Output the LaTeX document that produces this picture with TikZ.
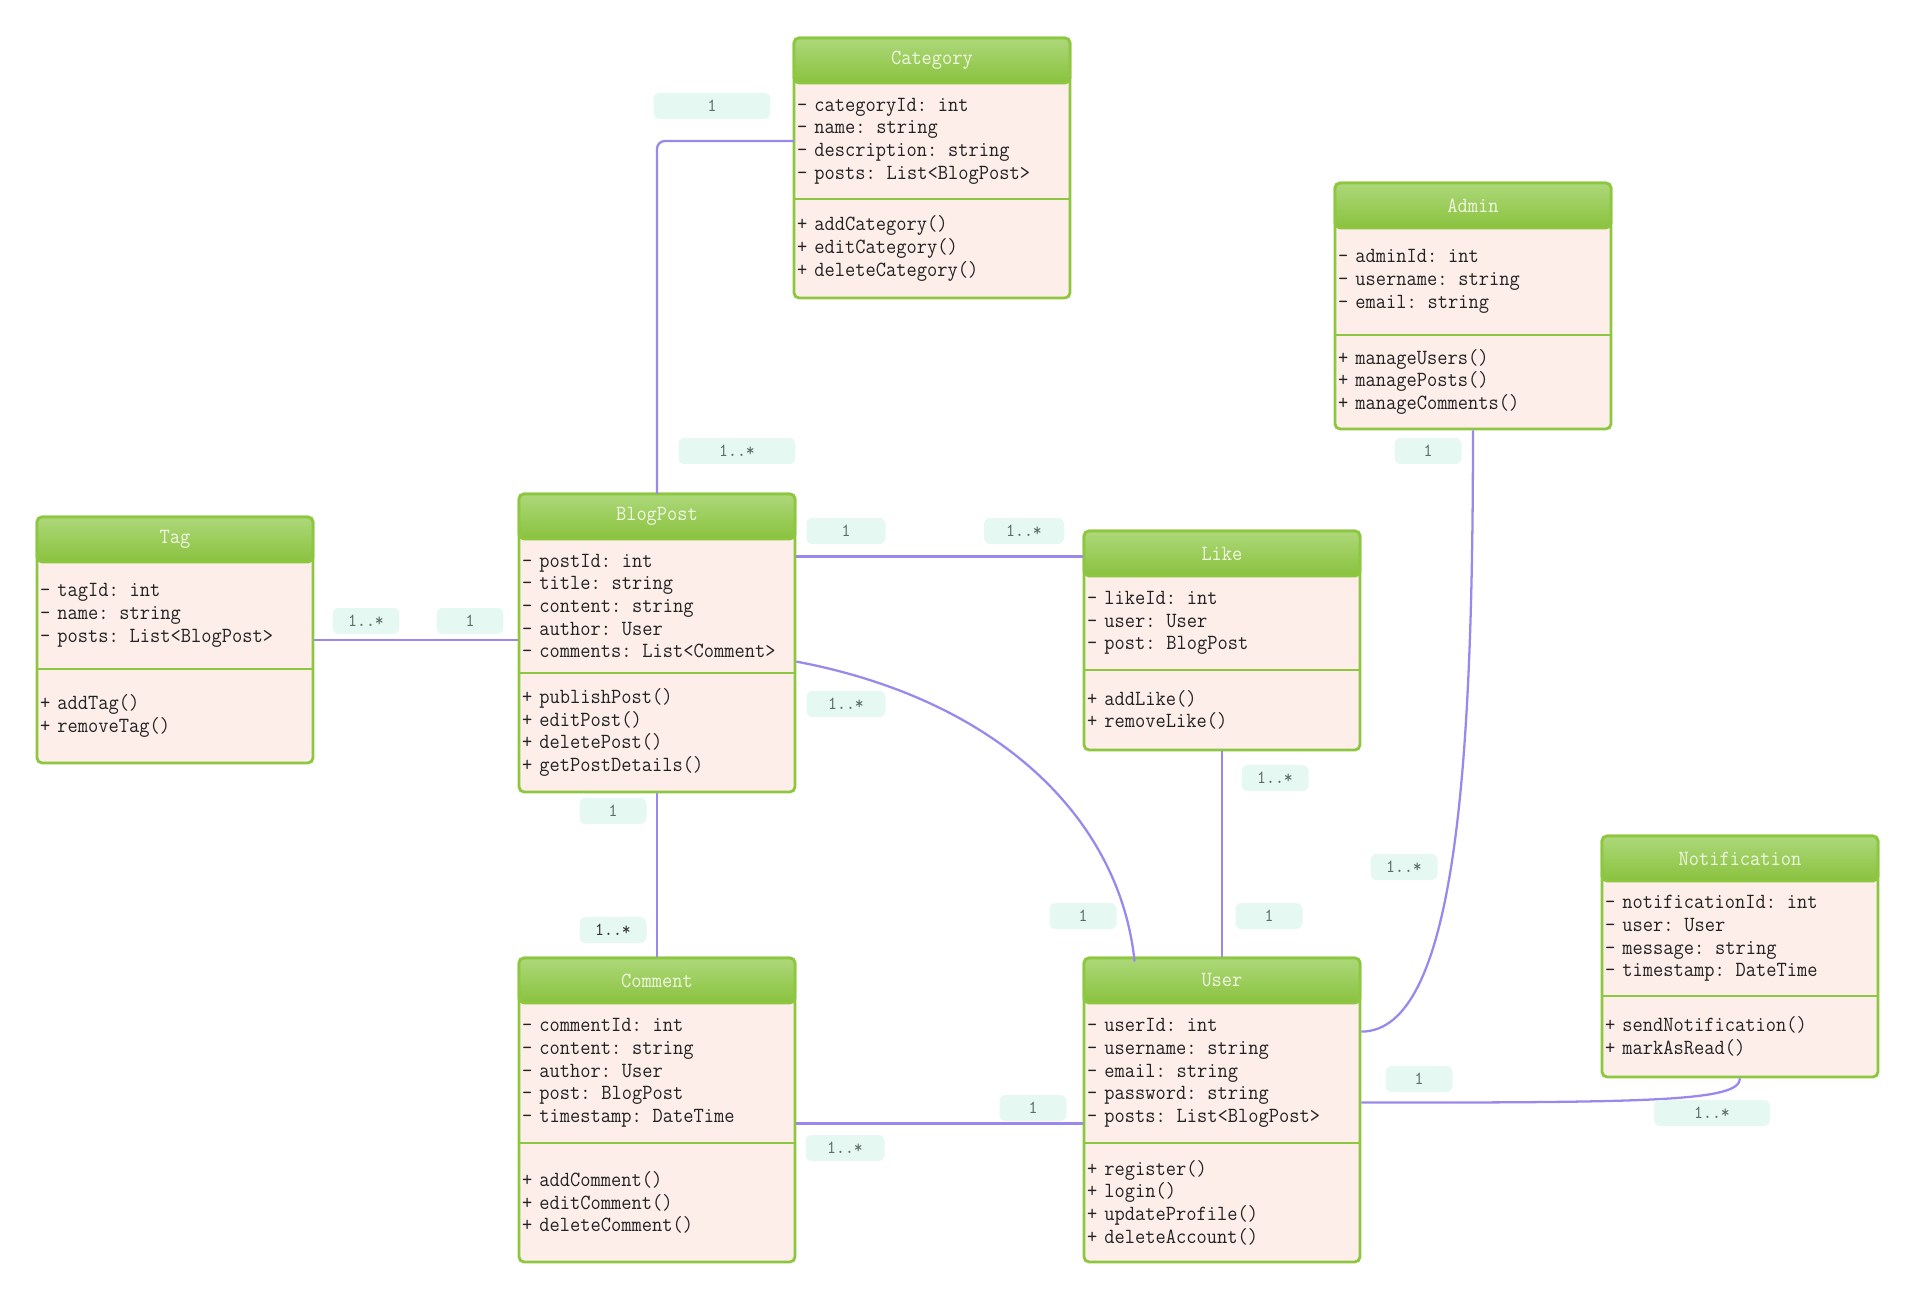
\documentclass[tikz,border=0pt]{standalone}
\usepackage{fontspec}
\newfontfamily\umlfont[FakeStretch=0.92]{Latin Modern Mono}
\usetikzlibrary{positioning,fit,calc,backgrounds}
\definecolor{classedge}{HTML}{8DC63F}
\definecolor{headtop}{HTML}{ADD87A}
\definecolor{headbottom}{HTML}{8AC23E}
\definecolor{headtext}{HTML}{F1F6E4}
\definecolor{classpink}{HTML}{FDEEEA}
\definecolor{classink}{HTML}{222222}
\definecolor{assocline}{HTML}{9B88EC}
\definecolor{multfill}{HTML}{E6F8F2}
\definecolor{multtext}{HTML}{5E6B67}

\begin{document}
\begin{tikzpicture}[
  x=0.02cm, y=-0.02cm,
  font=\umlfont\fontsize{12.3}{12.9}\selectfont,
  classhead/.style={draw=classedge, line width=1.6pt, rounded corners=0.1cm,
    top color=headtop, bottom color=headbottom, text=headtext,
    minimum width=5.52cm, minimum height=0.9cm, outer sep=0pt, anchor=north west},
  classpart/.style={text width=5.4cm, inner xsep=0.06cm, align=left,
    text=classink, outer sep=0pt},
  classbody/.style={draw=classedge, fill=classpink, line width=1.6pt,
    rounded corners=0.1cm, inner sep=0pt},
  divider/.style={draw=classedge, line width=1.6pt},
  assoc/.style={draw=assocline, line width=1.3pt},
  mult/.style={fill=multfill, rounded corners=0.12cm, minimum width=1.34cm,
    minimum height=0.52cm, inner sep=0pt, text=multtext,
    font=\umlfont\fontsize{10.5}{11}\selectfont}
]
  \useasboundingbox (0,0) rectangle (1917,1300);

  % classes
  \node[classhead] (catH) at (794,38) {Category};
  \node[classpart, minimum height=2.32cm, below=0pt of catH] (catA)
    {- categoryId: int\\- name: string\\- description: string\\- posts: List<BlogPost>};
  \node[classpart, minimum height=1.98cm, below=0pt of catA] (catM)
    {+ addCategory()\\+ editCategory()\\+ deleteCategory()};

  \node[classhead] (adminH) at (1335,183) {Admin};
  \node[classpart, minimum height=2.14cm, below=0pt of adminH] (adminA)
    {- adminId: int\\- username: string\\- email: string};
  \node[classpart, minimum height=1.88cm, below=0pt of adminA] (adminM)
    {+ manageUsers()\\+ managePosts()\\+ manageComments()};

  \node[classhead] (tagH) at (37,517) {Tag};
  \node[classpart, minimum height=2.14cm, below=0pt of tagH] (tagA)
    {- tagId: int\\- name: string\\- posts: List<BlogPost>};
  \node[classpart, minimum height=1.88cm, below=0pt of tagA] (tagM)
    {+ addTag()\\+ removeTag()};

  \node[classhead] (postH) at (519,494) {BlogPost};
  \node[classpart, minimum height=2.68cm, below=0pt of postH] (postA)
    {- postId: int\\- title: string\\- content: string\\- author: User\\- comments: List<Comment>};
  \node[classpart, minimum height=2.38cm, below=0pt of postA] (postM)
    {+ publishPost()\\+ editPost()\\+ deletePost()\\+ getPostDetails()};

  \node[classhead] (likeH) at (1084,531) {Like};
  \node[classpart, minimum height=1.88cm, below=0pt of likeH] (likeA)
    {- likeId: int\\- user: User\\- post: BlogPost};
  \node[classpart, minimum height=1.6cm, below=0pt of likeA] (likeM)
    {+ addLike()\\+ removeLike()};

  \node[classhead] (noteH) at (1602,836) {Notification};
  \node[classpart, minimum height=2.3cm, below=0pt of noteH] (noteA)
    {- notificationId: int\\- user: User\\- message: string\\- timestamp: DateTime};
  \node[classpart, minimum height=1.62cm, below=0pt of noteA] (noteM)
    {+ sendNotification()\\+ markAsRead()};

  \node[classhead] (commentH) at (519,958) {Comment};
  \node[classpart, minimum height=2.8cm, below=0pt of commentH] (commentA)
    {- commentId: int\\- content: string\\- author: User\\- post: BlogPost\\- timestamp: DateTime};
  \node[classpart, minimum height=2.38cm, below=0pt of commentA] (commentM)
    {+ addComment()\\+ editComment()\\+ deleteComment()};

  \node[classhead] (userH) at (1084,958) {User};
  \node[classpart, minimum height=2.8cm, below=0pt of userH] (userA)
    {- userId: int\\- username: string\\- email: string\\- password: string\\- posts: List<BlogPost>};
  \node[classpart, minimum height=2.38cm, below=0pt of userA] (userM)
    {+ register()\\+ login()\\+ updateProfile()\\+ deleteAccount()};

  \begin{scope}[on background layer]
    \node[classbody, fit=(catH)(catM)] (cat) {};
    \node[classbody, fit=(adminH)(adminM)] (admin) {};
    \node[classbody, fit=(tagH)(tagM)] (tag) {};
    \node[classbody, fit=(postH)(postM)] (post) {};
    \node[classbody, fit=(likeH)(likeM)] (like) {};
    \node[classbody, fit=(noteH)(noteM)] (note) {};
    \node[classbody, fit=(commentH)(commentM)] (comment) {};
    \node[classbody, fit=(userH)(userM)] (user) {};
  \end{scope}

  \draw[divider] (catA.south west) -- (catA.south east);
  \draw[divider] (adminA.south west) -- (adminA.south east);
  \draw[divider] (tagA.south west) -- (tagA.south east);
  \draw[divider] (postA.south west) -- (postA.south east);
  \draw[divider] (likeA.south west) -- (likeA.south east);
  \draw[divider] (noteA.south west) -- (noteA.south east);
  \draw[divider] (commentA.south west) -- (commentA.south east);
  \draw[divider] (userA.south west) -- (userA.south east);

  % associations
  \coordinate (postLike) at ($(post.north east)+(0,64)$);
  \coordinate (postUser) at ($(post.north east)+(0,169)$);
  \coordinate (userPost) at ($(user.north west)+(52,5)$);
  \coordinate (userAdmin) at ($(user.north east)+(0,75)$);
  \coordinate (userNote) at ($(user.north east)+(0,146)$);
  \coordinate (commentUser) at ($(comment.north east)+(0,167)$);

  \draw[assoc, rounded corners=0.16cm] (catA.west) -| (postH.north);
  \draw[assoc] (tag.east) -- (tag.east -| post.west);
  \draw[assoc] (postLike) -- (postLike -| like.west);
  \draw[assoc] (postUser) .. controls (1000,700) and (1120,820) .. (userPost);
  \draw[assoc] (post.south) -- (comment.north);
  \draw[assoc] (like.south) -- (user.north);
  \draw[assoc] (admin.south) .. controls +(0,333) and +(95,0) .. (userAdmin);
  \draw[assoc] (userNote) .. controls +(290,0) and +(0,23) .. (note.south);
  \draw[assoc] (commentUser) -- (commentUser -| user.west);

  % multiplicities
  \node[mult, minimum width=2.34cm] (catOne) at (712,106) {1};
  \node[mult, minimum width=2.34cm] (catMany) at (737,451) {1..*};
  \node[mult] (tagMany) at (366,621) {1..*};
  \node[mult] (tagOne) at (470,621) {1};
  \node[mult, minimum width=1.58cm] (likePostOne) at (846,531) {1};
  \node[mult, minimum width=1.6cm] (likeMany) at (1024,531) {1..*};
  \node[mult, minimum width=1.58cm] (userPostMany) at (846,704) {1..*};
  \node[mult] (userPostOne) at (1083,916) {1};
  \node[mult] (likeUserOne) at (1269,916) {1};
  \node[mult] (likeUserMany) at (1275,778) {1..*};
  \node[mult] (adminOne) at (1428,451) {1};
  \node[mult] (adminMany) at (1404,867) {1..*};
  \node[mult] (noteOne) at (1419,1079) {1};
  \node[mult, minimum width=2.32cm] (noteMany) at (1712,1113) {1..*};
  \node[mult] (commentOne) at (1033,1108) {1};
  \node[mult, minimum width=1.58cm] (commentMany) at (845,1148) {1..*};
  \node[mult] (postCommentOne) at (613,811) {1};
  \node[mult, text=black!80] (postCommentMany) at (613,930) {1..*};
\end{tikzpicture}
\end{document}
